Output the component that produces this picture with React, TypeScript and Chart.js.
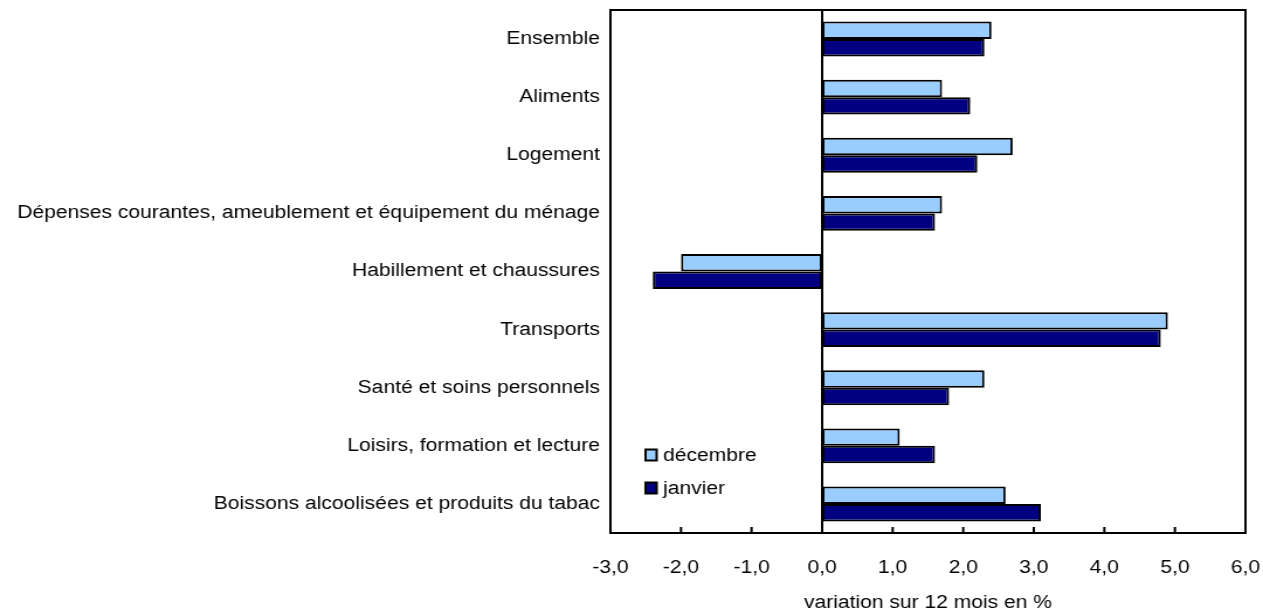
import React, { useEffect, useRef } from "react";
import { Chart, registerables } from "chart.js";

Chart.register(...registerables);

const categories = [
  "Ensemble",
  "Aliments",
  "Logement",
  "Dépenses courantes, ameublement et équipement du ménage",
  "Habillement et chaussures",
  "Transports",
  "Santé et soins personnels",
  "Loisirs, formation et lecture",
  "Boissons alcoolisées et produits du tabac",
];
const decembre = [2.4, 1.7, 2.7, 1.7, -2.0, 4.9, 2.3, 1.1, 2.6];
const janvier = [2.3, 2.1, 2.2, 1.6, -2.4, 4.8, 1.8, 1.6, 3.1];
const seriesNames = ["décembre", "janvier"];
const seriesColors = ["#99CCFF", "#000080"];
const xTickValues = [-3, -2, -1, 0, 1, 2, 3, 4, 5, 6];
const xTickLabels = ["-3,0", "-2,0", "-1,0", "0,0", "1,0", "2,0", "3,0", "4,0", "5,0", "6,0"];
const xAxisTitle = "variation sur 12 mois en %";

const FONT = "'Liberation Sans', Arial, Helvetica, sans-serif";
const FONT_SIZE = 18;
const CSS_W = 1263;
const CSS_H = 616;
const DRAW_W = 1080;

const framePlugin = {
  id: "frame",
  beforeDatasetsDraw(chart: any) {
    const { ctx, chartArea } = chart;
    const x0 = chart.scales.x.getPixelForValue(0);
    ctx.save();
    ctx.strokeStyle = "#000";
    ctx.lineWidth = 2;
    ctx.beginPath();
    ctx.moveTo(x0, chartArea.top);
    ctx.lineTo(x0, chartArea.bottom);
    ctx.stroke();
    ctx.restore();
  },
  afterDatasetsDraw(chart: any) {
    const { ctx, chartArea } = chart;
    const { left, right, top, bottom } = chartArea;
    ctx.save();
    ctx.strokeStyle = "#000";
    ctx.lineWidth = 2;
    ctx.strokeRect(left, top, right - left, bottom - top);
    ctx.beginPath();
    for (const v of xTickValues) {
      const px = chart.scales.x.getPixelForValue(v);
      ctx.moveTo(px, bottom);
      ctx.lineTo(px, bottom - 6);
    }
    ctx.stroke();
    // legend inside plot area
    const boxX = left + 30;
    const boxW = 9.5;
    const boxH = 11;
    chart.data.datasets.forEach((ds: any, i: number) => {
      const cy = bottom - 78 + i * 33;
      ctx.fillStyle = ds.backgroundColor;
      ctx.fillRect(boxX, cy - boxH / 2, boxW, boxH);
      ctx.lineWidth = 2;
      ctx.strokeStyle = "#000";
      ctx.strokeRect(boxX, cy - boxH / 2, boxW, boxH);
      ctx.fillStyle = "#000";
      ctx.font = `${FONT_SIZE}px ${FONT}`;
      ctx.textBaseline = "middle";
      ctx.textAlign = "left";
      ctx.fillText(ds.label, left + 45, cy + 1);
    });
    ctx.restore();
  },
};

export default function App() {
  const canvasRef = useRef<HTMLCanvasElement | null>(null);

  useEffect(() => {
    document.body.style.margin = "0";
    const canvas = canvasRef.current;
    if (!canvas) return;
    Chart.defaults.font.family = FONT;
    Chart.defaults.font.size = FONT_SIZE;
    Chart.defaults.color = "#000";
    const chart = new Chart(canvas, {
      type: "bar",
      data: {
        labels: categories,
        datasets: [
          {
            label: seriesNames[0],
            data: decembre,
            backgroundColor: seriesColors[0],
            borderColor: "#000",
            borderWidth: 2,
            borderSkipped: false,
          },
          {
            label: seriesNames[1],
            data: janvier,
            backgroundColor: seriesColors[1],
            borderColor: "#000",
            borderWidth: 2,
            borderSkipped: false,
          },
        ],
      },
      options: {
        indexAxis: "y",
        responsive: false,
        animation: false,
        devicePixelRatio: 1,
        layout: { padding: { top: 10, right: 15, left: 0, bottom: 0 } },
        plugins: {
          legend: { display: false },
          tooltip: { enabled: false },
        },
        datasets: {
          bar: { categoryPercentage: 0.6, barPercentage: 1.0 },
        },
        scales: {
          x: {
            type: "linear",
            min: -3,
            max: 6,
            grid: { display: false, drawTicks: false },
            border: { display: false },
            ticks: {
              stepSize: 1,
              padding: 24,
              maxRotation: 0,
              callback: (value: any) => {
                const idx = xTickValues.indexOf(Number(value));
                return idx >= 0 ? xTickLabels[idx] : "";
              },
            },
            title: {
              display: true,
              text: xAxisTitle,
              padding: { top: 0, bottom: 2 },
            },
            afterFit: (scale: any) => {
              scale.height = CSS_H - 533;
              scale.paddingLeft = 0;
              scale.paddingRight = 0;
            },
          },
          y: {
            type: "category",
            grid: { display: false, drawTicks: false },
            border: { display: false },
            ticks: { padding: 9, autoSkip: false },
            afterFit: (scale: any) => {
              scale.width = 522;
              scale.paddingTop = 0;
              scale.paddingBottom = 0;
            },
          },
        },
      },
      plugins: [framePlugin],
    } as any);
    return () => chart.destroy();
  }, []);

  return (
    <div style={{ position: "fixed", left: 0, top: 0, width: CSS_W, height: CSS_H, background: "#fff" }}>
      <canvas
        ref={canvasRef}
        width={DRAW_W}
        height={CSS_H}
        style={{ width: `${CSS_W}px`, height: `${CSS_H}px`, display: "block" }}
      />
    </div>
  );
}
